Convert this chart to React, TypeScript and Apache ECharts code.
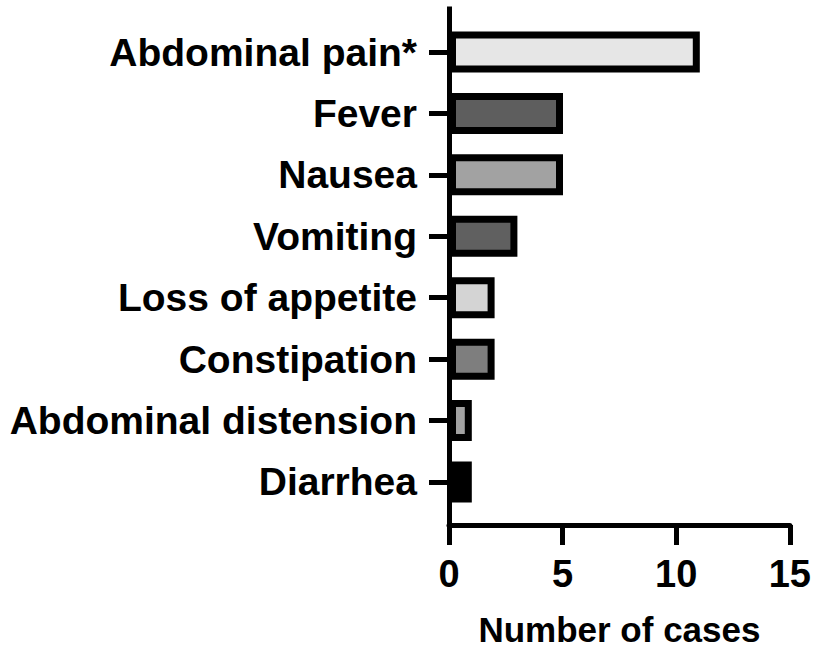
import React, { useEffect, useRef } from "react";
import * as echarts from "echarts";

const categories = [
  "Abdominal pain*",
  "Fever",
  "Nausea",
  "Vomiting",
  "Loss of appetite",
  "Constipation",
  "Abdominal distension",
  "Diarrhea",
];
const cases = [11, 5, 5, 3, 2, 2, 1, 1];
const barColors = ["#e6e6e6", "#5e5e5e", "#a2a2a2", "#606060", "#d4d4d4", "#7e7e7e", "#a2a2a2", "#000000"];
const xMin = 0;
const xMax = 15;
const xInterval = 5;
const xTitle = "Number of cases";

const FONT = "'Liberation Sans', Arial, Helvetica, sans-serif";

export default function App() {
  const ref = useRef<HTMLDivElement>(null);
  useEffect(() => {
    if (!ref.current) return;
    const chart = echarts.init(ref.current, null, { renderer: "svg" });
    const left = 449;
    const width = 342;
    chart.setOption({
      animation: false,
      backgroundColor: "#ffffff",
      grid: [
        { left, width, top: 9, height: 516, containLabel: false },
        { left, width, top: 21.3, height: 491.4, containLabel: false },
      ],
      xAxis: [
        {
          gridIndex: 0,
          type: "value",
          min: xMin,
          max: xMax,
          interval: xInterval,
          axisLine: { show: true, onZero: false, lineStyle: { color: "#000", width: 5 } },
          axisTick: { show: true, length: 20, lineStyle: { color: "#000", width: 5 } },
          axisLabel: {
            show: true,
            margin: 30,
            color: "#000",
            fontSize: 38,
            fontWeight: "bold",
            fontFamily: FONT,
          },
          splitLine: { show: false },
          name: xTitle,
          nameLocation: "middle",
          nameGap: 87,
          nameTextStyle: { color: "#000", fontSize: 35, fontWeight: "bold", fontFamily: FONT },
        },
        {
          gridIndex: 1,
          type: "value",
          min: xMin,
          max: xMax,
          show: false,
        },
      ],
      yAxis: [
        {
          gridIndex: 0,
          type: "value",
          min: 0,
          max: 1,
          axisLine: { show: true, onZero: false, lineStyle: { color: "#000", width: 5, cap: "square" } },
          axisTick: { show: false },
          axisLabel: { show: false },
          splitLine: { show: false },
        },
        {
          gridIndex: 1,
          type: "category",
          inverse: true,
          data: categories,
          axisLine: { show: false },
          axisTick: { show: true, alignWithLabel: true, length: 20, lineStyle: { color: "#000", width: 5 } },
          axisLabel: {
            show: true,
            margin: 32,
            color: "#000",
            fontSize: 39,
            fontWeight: "bold",
            fontFamily: FONT,
          },
          splitLine: { show: false },
        },
      ],
      series: [
        {
          type: "bar",
          xAxisIndex: 1,
          yAxisIndex: 1,
          barWidth: 41,
          data: cases.map((v, i) => ({
            value: v,
            itemStyle: { color: barColors[i], borderColor: "#000", borderWidth: 7 },
          })),
        },
      ],
    });
    return () => chart.dispose();
  }, []);
  return (
    <div
      ref={ref}
      style={{ position: "fixed", left: 0, top: 0, width: 814, height: 653, background: "#fff" }}
    />
  );
}
